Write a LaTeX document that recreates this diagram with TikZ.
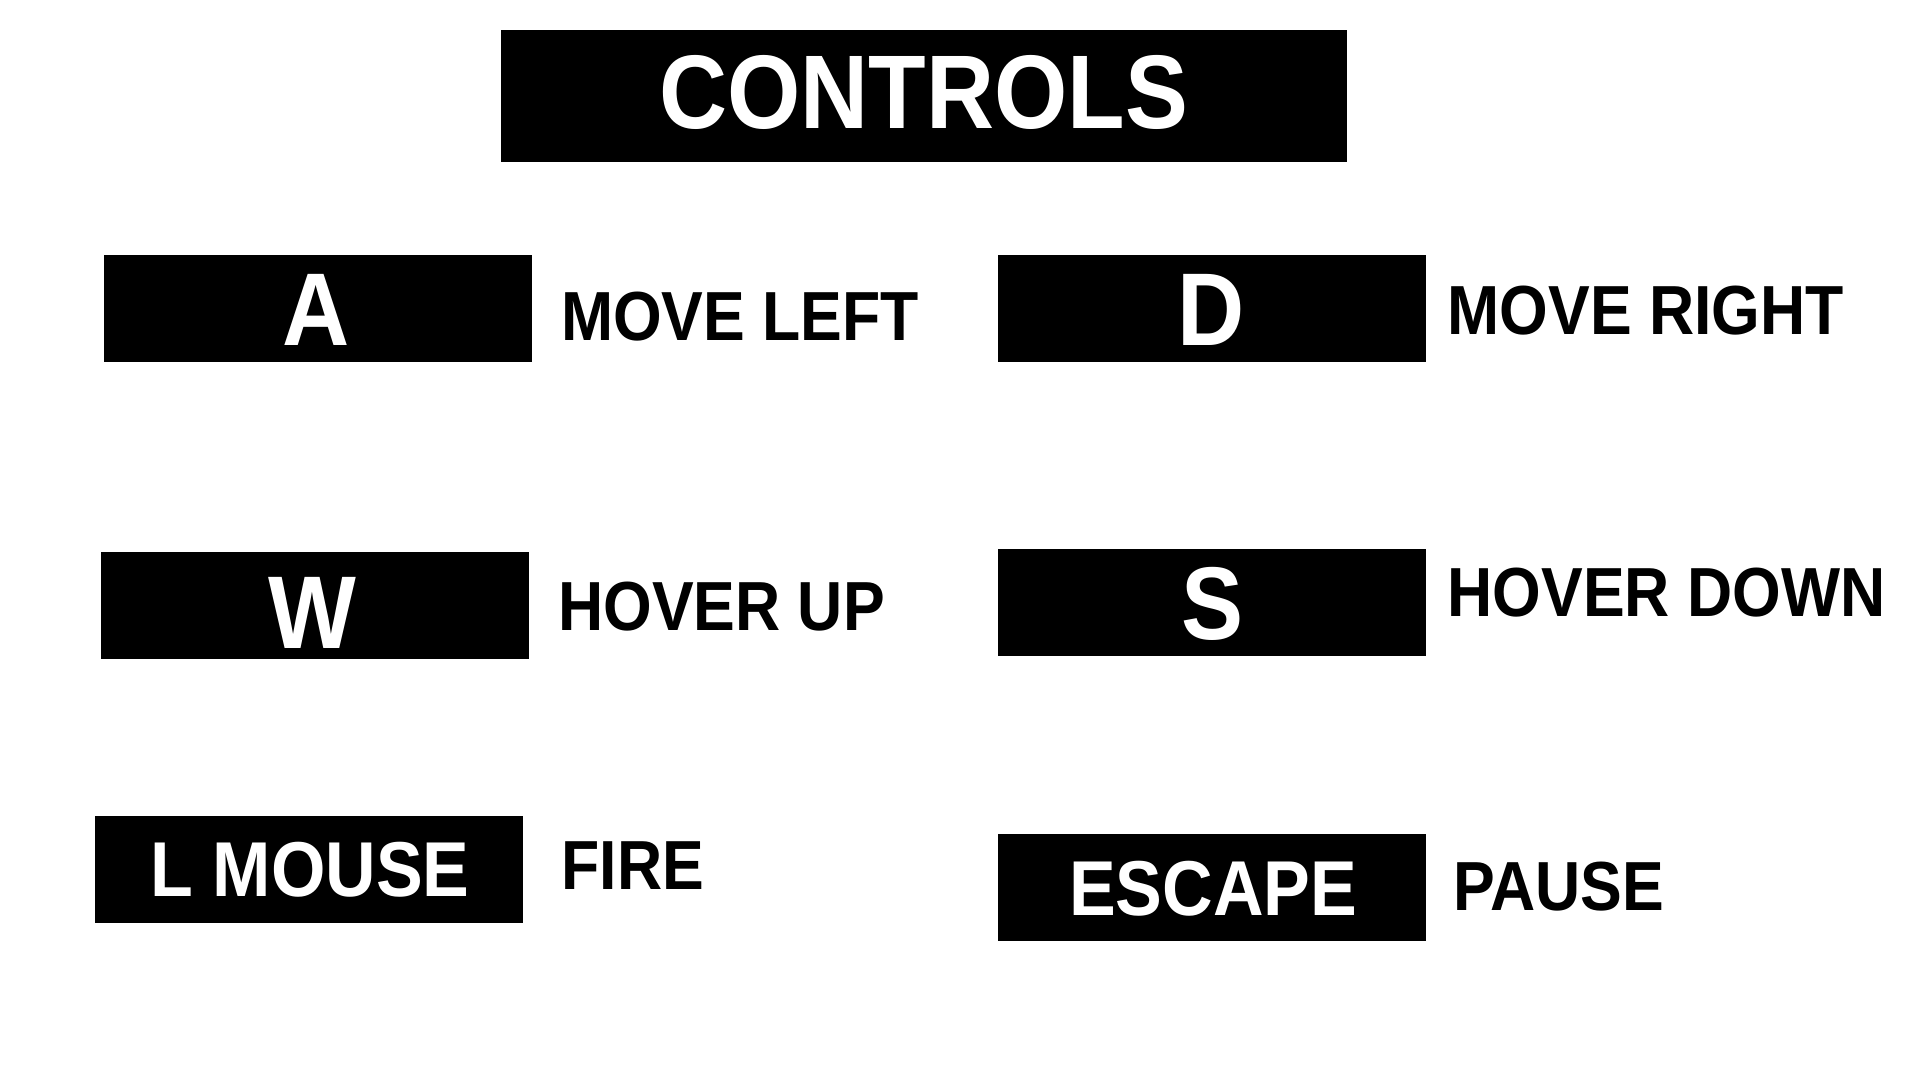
\documentclass[tikz,border=0pt]{standalone}
\usepackage{fontspec}
\newfontfamily\keyfont{Liberation Sans}[FakeStretch=0.9]
\begin{document}
\begin{tikzpicture}[x=1pt,y=-1pt,
  keybox/.style={fill=black,inner sep=0pt,anchor=center,minimum width=428pt,minimum height=107pt},
  keytext/.style={anchor=base,inner sep=0pt,text=white},
  titlefont/.style={font=\keyfont\bfseries\fontsize{104.7pt}{108pt}\selectfont},
  letterfont/.style={font=\keyfont\bfseries\fontsize{103.4pt}{106pt}\selectfont},
  wordfont/.style={font=\keyfont\bfseries\fontsize{77.8pt}{80pt}\selectfont},
  label/.style={anchor=base west,inner sep=0pt,text=black,font=\keyfont\bfseries\fontsize{69.5pt}{72pt}\selectfont}]
\useasboundingbox[fill=white] (0,0) rectangle (1920,1080);
% boxes
\node[keybox,minimum width=845.6pt,minimum height=131.7pt] (title) at (924,95.85) {};
\node[keybox] (boxA) at (317.6,308.35) {};
\node[keybox] (boxD) at (1211.75,308.35) {};
\node[keybox] (boxW) at (314.85,605) {};
\node[keybox] (boxS) at (1211.7,602.5) {};
\node[keybox] (boxL) at (309.25,869.2) {};
\node[keybox] (boxE) at (1211.7,887.5) {};
% texts in boxes
\node[keytext,titlefont] (titletext) at (923.5,128.5) {CONTROLS};
\node[keytext,letterfont] (keyA) at (315.7,345) {A};
\node[keytext,letterfont] (keyD) at (1210.8,345) {D};
\node[keytext,letterfont] (keyW) at (312.4,648) {W};
\node[keytext,letterfont] (keyS) at (1212.6,639) {S};
\node[keytext,wordfont] (keyL) at (310.1,896.5) {L MOUSE};
\node[keytext,wordfont] (keyE) at (1213.2,915) {ESCAPE};
% labels
\node[label] (lblA) at (561,340) {MOVE LEFT};
\node[label] (lblD) at (1447.3,334.3) {MOVE RIGHT};
\node[label] (lblW) at (558,630.5) {HOVER UP};
\node[label] (lblS) at (1447.3,616) {HOVER DOWN};
\node[label] (lblL) at (561.5,889) {FIRE};
\node[label] (lblE) at (1453.3,910) {PAUSE};
\end{tikzpicture}
\end{document}
